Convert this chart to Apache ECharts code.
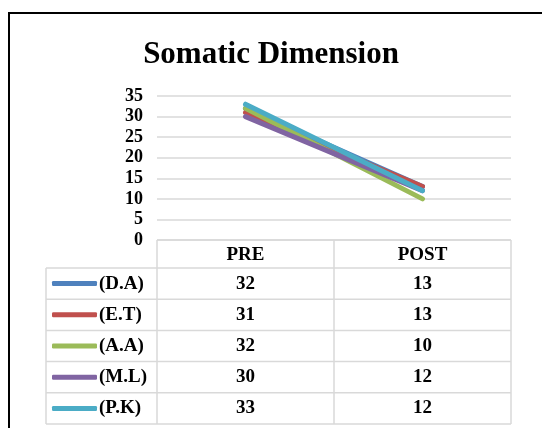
<!DOCTYPE html>
<html>
<head>
<meta charset="utf-8">
<script src="https://cdn.jsdelivr.net/npm/echarts@6/dist/echarts.min.js"></script>
<style>html,body{margin:0;padding:0;background:#fff;}#c{width:542px;height:428px;}</style>
</head>
<body>
<div id="c"></div>
<script>
const title = 'Somatic Dimension';
const categories = ['PRE', 'POST'];
const seriesNames = ['(D.A)', '(E.T)', '(A.A)', '(M.L)', '(P.K)'];
const valuesDA = [32, 13];
const valuesET = [31, 13];
const valuesAA = [32, 10];
const valuesML = [30, 12];
const valuesPK = [33, 12];
const allValues = [valuesDA, valuesET, valuesAA, valuesML, valuesPK];
const colors = ['#4F81BD', '#C0504D', '#9BBB59', '#8064A2', '#4BACC6'];

const FONT = '"Liberation Serif", "Times New Roman", serif';
const grid = { left: 157, right: 31, top: 96, bottom: 188 };
const headerH = 28, rowH = 31.2, legendColLeft = 46;
const gridColor = '#D9D9D9';

const chart = echarts.init(document.getElementById('c'), null, { renderer: 'canvas' });

const option = {
  animation: false,
  backgroundColor: '#fff',
  color: colors,
  title: {
    text: title, left: 'center', top: 34,
    textStyle: { fontFamily: FONT, fontWeight: 'bold', fontSize: 31, color: '#000' }
  },
  grid: grid,
  legend: {
    orient: 'vertical', left: 52, top: 240 + headerH + rowH / 2 - 10,
    height: 200, padding: 0,
    itemWidth: 45, itemHeight: 5, itemGap: rowH - 20,
    icon: 'roundRect',
    data: seriesNames,
    textStyle: { fontFamily: FONT, fontWeight: 'bold', fontSize: 19, color: '#000', lineHeight: 20, padding: [0, 0, 0, -3] }
  },
  xAxis: {
    type: 'category', data: categories, boundaryGap: true,
    axisLine: { show: false }, axisTick: { show: false },
    axisLabel: { margin: 6, fontFamily: FONT, fontWeight: 'bold', fontSize: 19, color: '#000' }
  },
  yAxis: {
    type: 'value', min: 0, max: 35, interval: 5,
    axisLine: { show: false }, axisTick: { show: false },
    splitLine: { lineStyle: { color: gridColor, width: 1.5 } },
    axisLabel: { margin: 14, fontFamily: FONT, fontWeight: 'bold', fontSize: 18, color: '#000' }
  },
  series: seriesNames.map((n, i) => ({
    name: n, type: 'line', data: allValues[i], showSymbol: false, symbol: 'none',
    lineStyle: { width: 5, color: colors[i], cap: 'round' },
    itemStyle: { color: colors[i] }
  }))
};
chart.setOption(option);

// build data table
function buildTable() {
  const x0 = chart.convertToPixel({ xAxisIndex: 0 }, 0);
  const x1 = chart.convertToPixel({ xAxisIndex: 0 }, 1);
  const colW = x1 - x0;
  const left = x0 - colW / 2, mid = x0 + colW / 2, right = x1 + colW / 2;
  const top = chart.convertToPixel({ yAxisIndex: 0 }, 0);
  const bottom = top + headerH + rowH * seriesNames.length;
  const els = [];
  const ls = { stroke: gridColor, lineWidth: 1.5 };
  // frame
  els.push({ type: 'line', shape: { x1: 8, y1: 13, x2: 542, y2: 13 }, style: { stroke: '#000', lineWidth: 2 } });
  els.push({ type: 'line', shape: { x1: 9, y1: 12, x2: 9, y2: 428 }, style: { stroke: '#000', lineWidth: 2 } });
  // header
  els.push({ type: 'line', shape: { x1: left, y1: top, x2: right, y2: top }, style: ls });
  for (let r = 0; r <= seriesNames.length; r++) {
    const y = top + headerH + r * rowH;
    els.push({ type: 'line', shape: { x1: legendColLeft, y1: y, x2: right, y2: y }, style: ls });
  }
  [left, mid, right].forEach(x => els.push({ type: 'line', shape: { x1: x, y1: top, x2: x, y2: bottom }, style: ls }));
  els.push({ type: 'line', shape: { x1: legendColLeft, y1: top + headerH, x2: legendColLeft, y2: bottom }, style: ls });
  // values
  seriesNames.forEach((n, r) => {
    const cy = top + headerH + r * rowH + rowH / 2;
    categories.forEach((c, ci) => {
      const cx = chart.convertToPixel({ xAxisIndex: 0 }, ci);
      els.push({ type: 'text', x: cx, y: cy, style: { text: String(allValues[r][ci]), fontFamily: FONT, fontWeight: 'bold', fontSize: 19, fill: '#000', align: 'center', verticalAlign: 'middle' } });
    });
  });
  chart.setOption({ graphic: { elements: els } });
}
buildTable();
</script>
</body>
</html>
